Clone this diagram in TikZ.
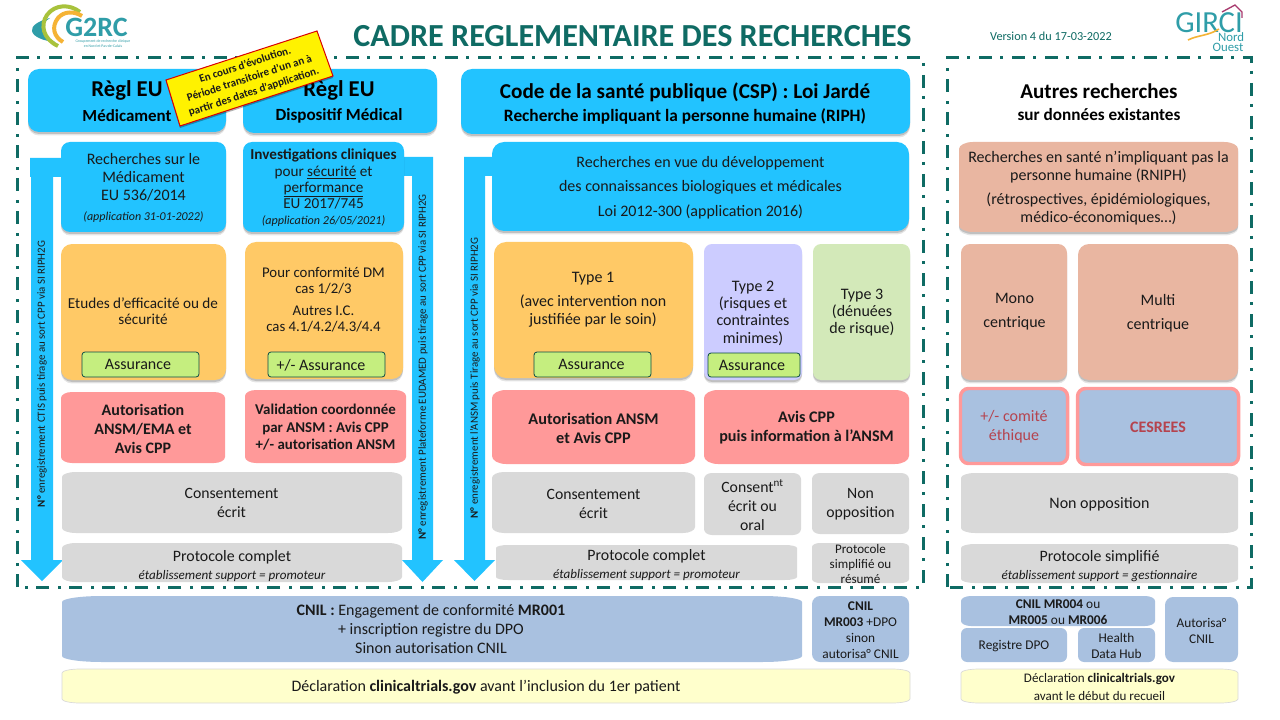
\documentclass[tikz,border=0pt]{standalone}
\usepackage{fontspec}
\setmainfont{Carlito}
\definecolor{teal1}{HTML}{0F6B64}
\definecolor{bl}{HTML}{22C3FF}
\definecolor{orng}{HTML}{FFC966}
\definecolor{rd}{HTML}{FF9999}
\definecolor{gry}{HTML}{D9D9D9}
\definecolor{grn}{HTML}{C5EE7F}
\definecolor{prp}{HTML}{CCCCFF}
\definecolor{lgrn}{HTML}{D3E9B9}
\definecolor{slm}{HTML}{E9B6A1}
\definecolor{bgr}{HTML}{A9C1E0}
\definecolor{yl}{HTML}{FFFFCC}
\definecolor{dred}{HTML}{B5434E}
\definecolor{ink}{HTML}{1A1A1A}
\definecolor{logoT}{HTML}{2F9DA8}
\definecolor{logoG}{HTML}{A8C23C}
\definecolor{logoO}{HTML}{F5B335}
\definecolor{logoP}{HTML}{A83A6E}
\newcommand\fsl[2]{\fontsize{#1}{#2}\selectfont}
\newcommand\fs[1]{\fontsize{#1}{\dimexpr#1pt*12/10\relax}\selectfont}
\tikzset{
  x=0.75pt,y=-0.75pt,
  shad/.style={preaction={fill=black,opacity=.10,transform canvas={yshift=-2.6pt}},
               preaction={fill=black,opacity=.16,transform canvas={yshift=-1.5pt}}},
  lab/.style={inner sep=0pt,align=center,text=ink,yshift=-0.75pt},
  frameline/.style={draw=teal1,line width=2.25pt,dash pattern=on 9.75pt off 6pt on 2.25pt off 6.75pt},
  arrowbody/.style={fill=bl},
  vlab/.style={rotate=90,inner sep=0pt,text=ink},
  assur/.style={fill=grn,draw=teal1!70!black,line width=.6pt},
  ethic/.style={fill=bgr,draw=rd,line width=2.6pt},
  yellowbox/.style={fill=yl,draw=gry,line width=.5pt},
}
% name x1 y1 x2 y2 rx ry style font text
\newcommand\bx[9]{%
  \path[#8] (#2+#6,#3) -- (#4-#6,#3)
    .. controls (#4-#6*.45,#3) and (#4,#3+#7*.45) .. (#4,#3+#7) -- (#4,#5-#7)
    .. controls (#4,#5-#7*.45) and (#4-#6*.45,#5) .. (#4-#6,#5) -- (#2+#6,#5)
    .. controls (#2+#6*.45,#5) and (#2,#5-#7*.45) .. (#2,#5-#7) -- (#2,#3+#7)
    .. controls (#2,#3+#7*.45) and (#2+#6*.45,#3) .. (#2+#6,#3) -- cycle;
  \def\bxname{#1}\def\bxcx{(#2+#4)/2}\def\bxcy{(#3+#5)/2}\def\bxfont{#9}\bxend}
\newcommand\bxend[1]{\node[lab,font=\bxfont] (\bxname) at ({\bxcx},{\bxcy}) {#1};}
\begin{document}
\begin{tikzpicture}
\useasboundingbox (0,0) rectangle (1280,720);
\fill[white] (0,0) rectangle (1280,720);

% frames
\draw[frameline] (17,587) -- (17,58) -- (923,58) -- (923,587) -- cycle;
\draw[frameline] (947,587) -- (947,58) -- (1251,58) -- (1251,587) -- cycle;

% title
\node[inner sep=0pt,text=teal1,font=\fs{24.1}\bfseries] (title) at (632.5,36) {CADRE REGLEMENTAIRE DES RECHERCHES};
\node[inner sep=0pt,text=teal1,font=\fs{9.2}] (version) at (1051,36) {Version 4 du 17-03-2022};

% logos
\path[fill=logoT] (50,18) .. controls (38,21) and (31,26) .. (32,31) .. controls (33,37) and (44,41) .. (55,42) .. controls (48,38) and (42,34) .. (42,29) .. controls (42,25) and (45,21) .. (50,18) -- cycle;
\draw[color=logoG,line width=3pt] (80,12) .. controls (70,4) and (55,4) .. (47,15) .. controls (40,25) and (43,39) .. (58,46);
\draw[color=logoO,line width=3pt] (82,16) .. controls (74,11) and (64,11) .. (58,18) .. controls (51,27) and (54,37) .. (63,42);
\node[inner sep=0pt,text=logoT,font=\fs{21}\bfseries] (g2rc) at (96.5,27.5) {G2RC};
\node[inner sep=0pt,align=center,font=\fsl{2.9}{3.6},text=logoT] (g2rcsub) at (103,43.5) {Groupement de recherche clinique\\en Nord et Pas-de-Calais};

\node[inner sep=0pt,text=logoT,font=\fs{23}] (girci) at (1209,23) {GIRCI};
\draw[color=logoP,line width=1pt] (1222,12) -- (1235,5) -- (1242,12) -- (1242,18);
\draw[color=logoO,line width=1.2pt] (1188,40) .. controls (1198,35) and (1208,36) .. (1219,29);
\node[inner sep=0pt,text=logoT,font=\fs{9.6}] (nord) at (1231,37.5) {Nord};
\node[inner sep=0pt,text=logoT,font=\fs{9.6}] (ouest) at (1228,47) {Ouest};

% arrows
\fill[arrowbody] (30,158) -- (62,158) -- (62,177) -- (53,177) -- (53,560) -- (63,560) -- (42,581) -- (21,560) -- (31,560) -- (31,177) -- (30,177) -- cycle;
\fill[arrowbody] (402,157) -- (433,157) -- (433,560) -- (443,560) -- (422.5,582) -- (402,560) -- (412,560) -- (412,176) -- (402,176) -- cycle;
\fill[arrowbody] (464,157) -- (494,157) -- (494,176) -- (485,176) -- (485,560) -- (495,560) -- (474.5,581) -- (454,560) -- (464,560) -- cycle;
\node[vlab,font=\fs{8.2}] (a1) at (42,374) {\textbf{N°} enregistrement CTIS puis tirage au sort CPP via SI RIPH2G};
\node[vlab,font=\fs{8.2}] (a2) at (423,367) {\textbf{N°} enregistrement Plateforme EUDAMED puis tirage au sort CPP via SI RIPH2G};
\node[vlab,font=\fs{8.2}] (a3) at (475,378) {\textbf{N°} enregistrement l’ANSM puis Tirage au sort CPP via SI RIPH2G};

% headers
\bx{h1}{28}{69}{226}{132}{11}{11}{fill=bl,shad}{}{}
\bx{h2}{243}{69}{437}{133}{11}{11}{fill=bl,shad}{}{}
\bx{h3}{461}{69}{910}{134}{11}{11}{fill=bl,shad}{}{}
\node[inner sep=0pt,font=\fs{17}\bfseries] (h1a) at (127,90) {Règl EU};
\node[inner sep=0pt,font=\fs{12.7}\bfseries] (h1b) at (127,116) {Médicament};
\node[inner sep=0pt,font=\fs{17}\bfseries] (h2a) at (339,90) {Règl EU};
\node[inner sep=0pt,font=\fs{12.8}\bfseries] (h2b) at (339,116) {Dispositif Médical};
\node[inner sep=0pt,font=\fs{15.9}\bfseries] (h3a) at (685,92) {Code de la santé publique (CSP) : Loi Jardé};
\node[inner sep=0pt,font=\fs{13}\bfseries] (h3b) at (685,116) {Recherche impliquant la personne humaine (RIPH)};
\node[inner sep=0pt,font=\fs{15.8}\bfseries] (h4a) at (1099,91) {Autres recherches};
\node[inner sep=0pt,font=\fs{12.9}\bfseries] (h4b) at (1099,115) {sur données existantes};

% column 1
\bx{c1a}{61}{142}{226}{232}{9}{9}{fill=bl,shad}{\fsl{12}{13.2}}{Recherches sur le\\Médicament\\EU 536/2014\\[2pt]\fs{9}\itshape(application 31-01-2022)}
\bx{c1b}{61}{244}{226}{380}{11}{11}{fill=orng,shad}{}{}
\node[lab,font=\fsl{11.4}{12}] (c1bt) at (143,310) {Etudes d’efficacité ou de\\sécurité};
\bx{c1c}{82}{352}{199}{377}{3}{3}{assur}{}{}
\node[lab,font=\fs{12}] (c1ct) at (138,363.5) {Assurance};
\bx{c1d}{61}{392}{225}{463}{11}{6}{fill=rd}{\fsl{12}{14.2}\bfseries}{Autorisation\\ANSM/EMA et\\Avis CPP}

% column 2
\bx{c2a}{243}{142}{404}{232}{9}{9}{fill=bl,shad}{\fsl{11.4}{12.2}}{\textbf{Investigations cliniques}\\pour \underline{sécurité} et\\\underline{performance}\\EU 2017/745\\\fs{9.1}\itshape(application 26/05/2021)}
\bx{c2b}{245}{242}{403}{379}{11}{11}{fill=orng,shad}{}{}
\node[lab,font=\fsl{11.1}{12}] (c2bt) at (323.5,299) {Pour conformité DM\\cas 1/2/3\\[4.5pt]Autres I.C.\\cas 4.1/4.2/4.3/4.4};
\bx{c2c}{268}{352}{385}{377}{3}{3}{assur}{}{}
\node[lab,font=\fs{12}] (c2ct) at (321,364.5) {+/- Assurance};
\bx{c2d}{245}{390}{406}{463}{11}{6}{fill=rd}{\fsl{11.2}{13.1}\bfseries}{Validation coordonnée\\par ANSM : Avis CPP\\+/- autorisation ANSM}
\bx{g1}{62}{472}{402}{533}{14}{5}{fill=gry}{}{}
\node[lab,font=\fsl{11.8}{14.2}] (g1t) at (231.5,502) {Consentement\\écrit};
\bx{p1}{62}{543}{402}{582}{14}{5}{fill=gry}{}{}
\node[lab,font=\fsl{11.9}{13.5}] (p1t) at (232,565) {Protocole complet\\\fs{9.8}\itshape établissement support = promoteur};

% column 3
\bx{c3a}{492}{142}{909}{231}{12}{12}{fill=bl,shad}{\fsl{12}{18.4}}{Recherches en vue du développement\\des connaissances biologiques et médicales\\Loi 2012-300 (application 2016)}
\bx{t1}{494}{242}{693}{378}{12}{12}{fill=orng,shad}{}{}
\node[lab,font=\fsl{12}{13.2}] (t1t) at (593,298.5) {Type 1\\[5.5pt](avec intervention non\\justifiée par le soin)};
\bx{t1c}{534}{352}{651}{377}{3}{3}{assur}{}{}
\node[lab,font=\fs{12}] (t1ct) at (591.5,363.5) {Assurance};
\bx{t2}{704}{244}{802}{380}{8}{8}{fill=prp,shad}{}{}
\node[lab,font=\fsl{12}{13}] (t2t) at (753,312) {Type 2\\(risques et\\contraintes\\minimes)};
\bx{t2c}{708}{353}{800}{377}{3}{3}{assur}{}{}
\node[lab,font=\fs{12}] (t2ct) at (752,364.5) {Assurance};
\bx{t3}{813}{244}{910}{380}{8}{8}{fill=lgrn,shad}{}{}
\node[lab,font=\fsl{12}{13}] (t3t) at (862,311.5) {Type 3\\(dénuées\\de risque)};
\bx{r1}{492}{390}{695}{464}{14}{8}{fill=rd}{\fsl{12.2}{14.2}\bfseries}{Autorisation ANSM\\et Avis CPP}
\bx{r2}{704}{390}{909}{464}{14}{8}{fill=rd}{\fsl{12.1}{14.2}\bfseries}{Avis CPP\\puis information à l’ANSM}
\bx{g3a}{492}{472}{695}{533}{12}{6}{fill=gry}{}{}
\node[lab,font=\fsl{11.8}{14.2}] (g3at) at (593.5,502.5) {Consentement\\écrit};
\bx{g3b}{704}{473}{801}{535}{8}{6}{fill=gry}{\fsl{11.8}{14.2}}{Consent\textsuperscript{nt}\\écrit ou\\oral}
\bx{g3c}{812}{473}{909}{534}{8}{6}{fill=gry}{\fsl{11.8}{14.2}}{Non\\opposition}
\bx{p3a}{496}{545}{797}{580}{12}{3}{fill=gry}{}{}
\node[lab,font=\fsl{11.9}{13.5}] (p3at) at (646.5,564) {Protocole complet\\\fs{9.8}\itshape établissement support = promoteur};
\bx{p3b}{812}{543}{909}{583}{8}{4}{fill=gry}{\fsl{9.8}{10.9}}{Protocole\\simplifié ou\\résumé}

% column 4
\bx{c4a}{959}{142}{1238}{232}{14}{7}{fill=slm,shad}{\fsl{12}{13.2}}{Recherches en santé n’impliquant pas la\\personne humaine (RNIPH)\\[5pt](rétrospectives, épidémiologiques,\\médico-économiques…)}
\bx{m1}{961}{244}{1067}{380}{9}{9}{fill=slm,shad}{}{}
\node[lab,font=\fsl{12}{18}] (m1t) at (1014.5,311) {Mono\\centrique};
\bx{m2}{1078}{244}{1238}{380}{11}{11}{fill=slm,shad}{}{}
\node[lab,font=\fsl{12}{18}] (m2t) at (1158,312) {Multi\\centrique};
\bx{e1}{960.5}{388.5}{1067.5}{463.5}{8}{8}{ethic}{\fsl{12}{14.2}}{\textcolor{dred}{+/- comité}\\\textcolor{dred}{éthique}}
\bx{e2}{1077.5}{388.5}{1238.5}{464.5}{8}{8}{ethic}{\fs{12}\bfseries}{\textcolor{dred}{CESREES}}
\bx{g4}{961}{473}{1238}{533}{14}{5}{fill=gry}{\fs{12}}{Non opposition}
\bx{p4}{961}{544}{1238}{583}{14}{4}{fill=gry}{}{}
\node[lab,font=\fsl{11.9}{13.5}] (p4t) at (1099.5,565) {Protocole simplifié\\\fs{9.8}\itshape établissement support = gestionnaire};

% bottom
\bx{b1}{62}{596}{802}{662}{40}{6}{fill=bgr}{}{}
\node[lab,font=\fsl{12}{14.25}] (b1t) at (431,628) {\textbf{CNIL :} Engagement de conformité \textbf{MR001}\\+ inscription registre du DPO\\Sinon autorisation CNIL};
\bx{b2}{812}{596}{909}{662}{8}{8}{fill=bgr}{\fsl{10}{12}}{\textbf{CNIL}\\\textbf{MR003} +DPO\\sinon\\autorisa° CNIL}
\bx{b3}{961}{596}{1155}{626}{10}{5}{fill=bgr}{\fsl{10}{12}}{\textbf{CNIL MR004} ou\\\textbf{MR005} ou \textbf{MR006}}
\bx{b4}{961}{628}{1067}{662}{6}{6}{fill=bgr}{\fs{10}}{Registre DPO}
\bx{b5}{1078}{628}{1155}{662}{6}{6}{fill=bgr}{\fsl{10}{12}}{Health\\Data Hub}
\bx{b6}{1165}{597}{1238}{662}{8}{8}{fill=bgr}{\fsl{10}{12}}{Autorisa°\\CNIL}
\bx{y1}{62}{669}{910}{703}{18}{4}{yellowbox}{\fs{12}}{Déclaration \textbf{clinicaltrials.gov} avant l’inclusion du 1er patient}
\bx{y2}{961}{669}{1238}{703}{18}{4}{yellowbox}{\fsl{9.8}{13.5}}{Déclaration \textbf{clinicaltrials.gov}\\avant le début du recueil}

% note
\path[fill=black,opacity=.3,transform canvas={yshift=-1.5pt}] (166,80) -- (317,31) -- (333,76) -- (180,126) -- cycle;
\path[fill=yellow,draw=red!85!black,line width=.75pt] (166,80) -- (317,31) -- (333,76) -- (180,126) -- cycle;
\node[inner sep=0pt,align=center,text=ink,rotate=18,font=\fsl{8.3}{10.5}\bfseries] (note) at (249.5,78.5) {En cours d’évolution.\\Période transitoire d’un an à\\partir des dates d’application.};
\end{tikzpicture}
\end{document}
